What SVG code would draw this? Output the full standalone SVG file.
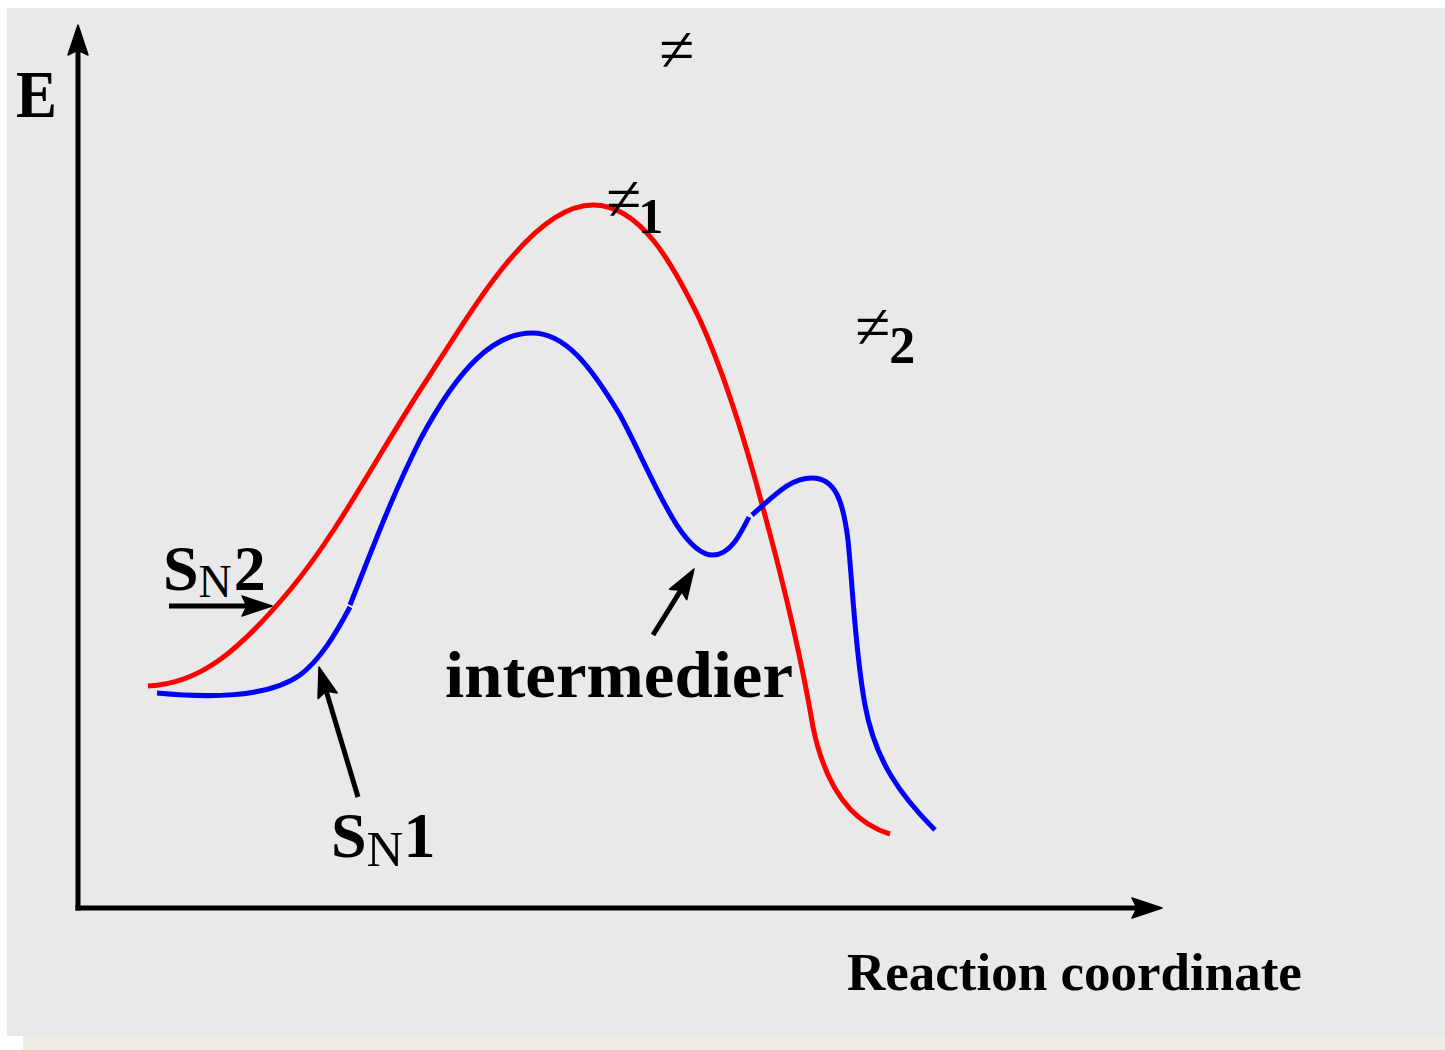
<svg xmlns="http://www.w3.org/2000/svg" width="1445" height="1050" viewBox="0 0 1445 1050">
<style>
.ax{fill:none;stroke:#000;stroke-width:5}
.ar{fill:none;stroke:#000;stroke-width:5}
.red{fill:none;stroke:#FF0000;stroke-width:5}
.blue{fill:none;stroke:#0000FF;stroke-width:5}
.b{font-family:"Liberation Serif","Times New Roman",serif;font-weight:bold;fill:#000}
.r{font-family:"Liberation Serif","Times New Roman",serif;font-weight:normal;fill:#000}
</style>
<defs>
<marker id="ah" markerUnits="userSpaceOnUse" markerWidth="40" markerHeight="30" refX="0" refY="0" orient="auto" overflow="visible">
<path d="M15,0 L-15,-10 L-10,0 L-15,10 Z" fill="#000" stroke="#000" stroke-width="1.5" stroke-linejoin="round"/>
</marker>
</defs>
<rect x="0" y="0" width="1445" height="1050" fill="#FFFFFF"/>
<rect x="7" y="8" width="1438" height="1028" fill="#E9E9E9"/>
<rect x="23" y="1036" width="1422" height="14" fill="#EEECE3"/>
<g id="axes">
<path class="ax" d="M78,910.5 V40" marker-end="url(#ah)"/>
<path class="ax" d="M75.5,908 H1147" marker-end="url(#ah)"/>
</g>
<g id="curves">
<path id="sn2-curve" class="red" d="M148,686 C200,684 240,650 290,590 C340,530 380,450 430,375 C478,300 535,205 593,205 C640,205 672,262 700,320 C725,375 745,440 763,508 C780,570 800,650 813,727 C825,785 850,822 890,834"/>
<path id="sn1-curve-a" class="blue" d="M157,693 C200,697 265,700 300,675 C320,660 335,635 350,607"/>
<path id="sn1-curve-b" class="blue" d="M350,605 C370,555 390,500 420,440 C460,365 495,333 532,333 C565,333 590,365 620,415 C650,470 680,555 713,555 C730,555 740,535 749,517"/>
<path id="sn1-curve-c" class="blue" d="M752,515 C775,495 790,478 812,478 C835,478 843,500 848,540 C853,590 855,650 865,705 C875,760 900,795 935,830"/>
</g>
<g id="connectors">
<line class="ar" x1="169" y1="606" x2="257" y2="606" marker-end="url(#ah)"/>
<line class="ar" x1="358" y1="797" x2="323.3" y2="681.4" marker-end="url(#ah)"/>
<line class="ar" x1="653" y1="635" x2="686.1" y2="581.7" marker-end="url(#ah)"/>
</g>
<g id="label-E"><text class="b" x="16" y="117" font-size="67" textLength="41" lengthAdjust="spacingAndGlyphs">E</text></g>
<g id="label-ts"><text class="r" x="659" y="71" font-size="64">≠</text></g>
<g id="label-ts1"><text class="r" x="606" y="220" font-size="64">≠<tspan class="b" font-size="50" dx="-3" dy="13">1</tspan></text></g>
<g id="label-ts2"><text class="r" x="855" y="348" font-size="64">≠<tspan class="b" font-size="52" dx="-1" dy="15">2</tspan></text></g>
<g id="label-SN2"><text class="b" x="163" y="590" font-size="64">S<tspan class="r" font-size="46" dy="7">N</tspan><tspan dy="-7" dx="2">2</tspan></text></g>
<g id="label-SN1"><text class="b" x="331" y="857" font-size="64">S<tspan class="r" font-size="51" dy="9">N</tspan><tspan dy="-9">1</tspan></text></g>
<g id="label-intermedier"><text class="b" x="445" y="697" font-size="66" textLength="348" lengthAdjust="spacingAndGlyphs">intermedier</text></g>
<g id="label-x"><text class="b" x="847" y="990" font-size="53">Reaction coordinate</text></g>
</svg>
